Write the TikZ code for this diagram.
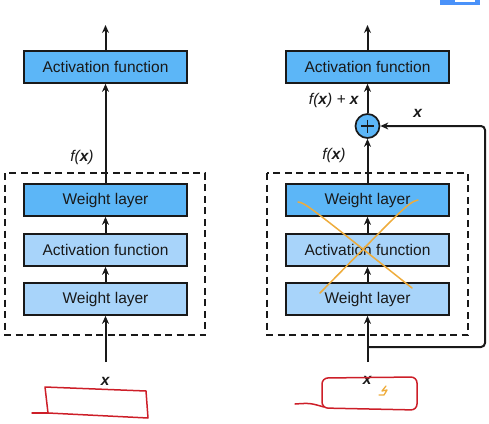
\documentclass[tikz,border=0pt]{standalone}
\usepackage{fontspec}
\setmainfont{Liberation Sans}
\usetikzlibrary{arrows.meta}
\definecolor{dblue}{RGB}{92,182,247}
\definecolor{lblue}{RGB}{168,212,250}
\definecolor{inkred}{RGB}{205,30,40}
\definecolor{inkorange}{RGB}{238,172,60}
\definecolor{ink}{RGB}{25,25,25}
\newcommand{\fx}{\textit{f(\textbf{x})}}
\newcommand{\bx}{\textbf{\textit{x}}}
\begin{document}
\begin{tikzpicture}[x=1pt,y=-1pt,
  every node/.style={font=\fontsize{15.5}{18}\selectfont, text=ink},
  layerbox/.style={draw=ink, line width=1.7pt, minimum width=163pt, minimum height=32pt, inner sep=0pt},
  darkbox/.style={layerbox, fill=dblue},
  lightbox/.style={layerbox, fill=lblue},
  flow/.style={draw=ink, line width=2pt, -{Stealth[length=8pt,width=7pt]}},
  groupbox/.style={draw=ink, line width=1.7pt, dash pattern=on 7pt off 4.5pt},
  redink/.style={draw=inkred, line width=1.5pt, line join=round, line cap=round},
  orangeink/.style={draw=inkorange, line width=1.5pt, line cap=round}
]
\useasboundingbox (0,0) rectangle (489,423);
% top-right UI fragment
\fill[dblue!80!blue] (440,0) rectangle (480,4.5);
\fill[white] (455,0) rectangle (475,2);

% ===== Left column =====
\draw[groupbox] (5,173) rectangle (205,335);
\node[darkbox] (Lact) at (105.5,67) {Activation function};
\node[darkbox] (Lw2) at (105.5,200) {Weight layer};
\node[lightbox] (Lact1) at (105.5,250) {Activation function};
\node[lightbox] (Lw1) at (105.5,299) {Weight layer};
\coordinate (Ltop) at (105.5,25);
\coordinate (Lin) at (105.5,362);
\draw[flow] (Lact.north) -- (Ltop);
\draw[flow] (Lw2.north) -- (Lact.south);
\draw[flow] (Lact1.north) -- (Lw2.south);
\draw[flow] (Lw1.north) -- (Lact1.south);
\draw[flow] (Lin) -- (Lw1.south);
\node (Lfx) at (82,157) {\fx};
\node (Lx) at (105.5,381) {\bx};

% ===== Right column =====
\draw[groupbox] (267,173) rectangle (468,335);
\node[darkbox] (Ract) at (367.5,67) {Activation function};
\node[darkbox] (Rw2) at (367.5,200) {Weight layer};
\node[lightbox] (Ract1) at (367.5,250) {Activation function};
\node[lightbox] (Rw1) at (367.5,299) {Weight layer};
\node[circle, draw=ink, line width=1.7pt, fill=dblue, minimum size=24pt, inner sep=0pt] (plus) at (367.5,126) {};
\draw[ink, line width=1.7pt] (361,126) -- (374,126) (367.5,119.5) -- (367.5,132.5);
\coordinate (Rtop) at (367.5,25);
\coordinate (Rin) at (367.5,362);
\coordinate (Rsplit) at (367.5,347);
\draw[flow] (Ract.north) -- (Rtop);
\draw[flow] (plus.north) -- (Ract.south);
\draw[flow] (Rw2.north) -- (plus.south);
\draw[flow] (Ract1.north) -- (Rw2.south);
\draw[flow] (Rw1.north) -- (Ract1.south);
\draw[flow] (Rin) -- (Rw1.south);
\draw[flow, rounded corners=4pt] (Rsplit) -- (485,347) -- (485,126) -- (plus.east);
\node (Rfx) at (334,155) {\fx};
\node (Rfxx) at (334,100) {\fx\ \textit{+} \bx};
\node (Rx) at (418,113) {\bx};
\node (Rxin) at (367.5,380) {\bx};

% orange cross
\draw[orangeink] (298,202) .. controls (305,203) .. (412,288);
\draw[orangeink] (320,293) .. controls (400,212) and (408,202) .. (418,200);

% red hand-drawn boxes
\draw[redink] (32,413) -- (48,413);
\draw[redink] (45,387) -- (146,391) -- (148,418) -- (48,413) -- cycle;
\draw[redink, rounded corners=6pt] (322,378) -- (417,377) -- (417,410) -- (322,408) -- cycle;
\draw[redink] (295,404) .. controls (310,403) .. (324,407);
% orange squiggle
\draw[orangeink, line width=1.3pt, line join=round] (386,386) -- (382,391) -- (387,390) -- (384,395) (379,395) -- (384,395);
\end{tikzpicture}
\end{document}
